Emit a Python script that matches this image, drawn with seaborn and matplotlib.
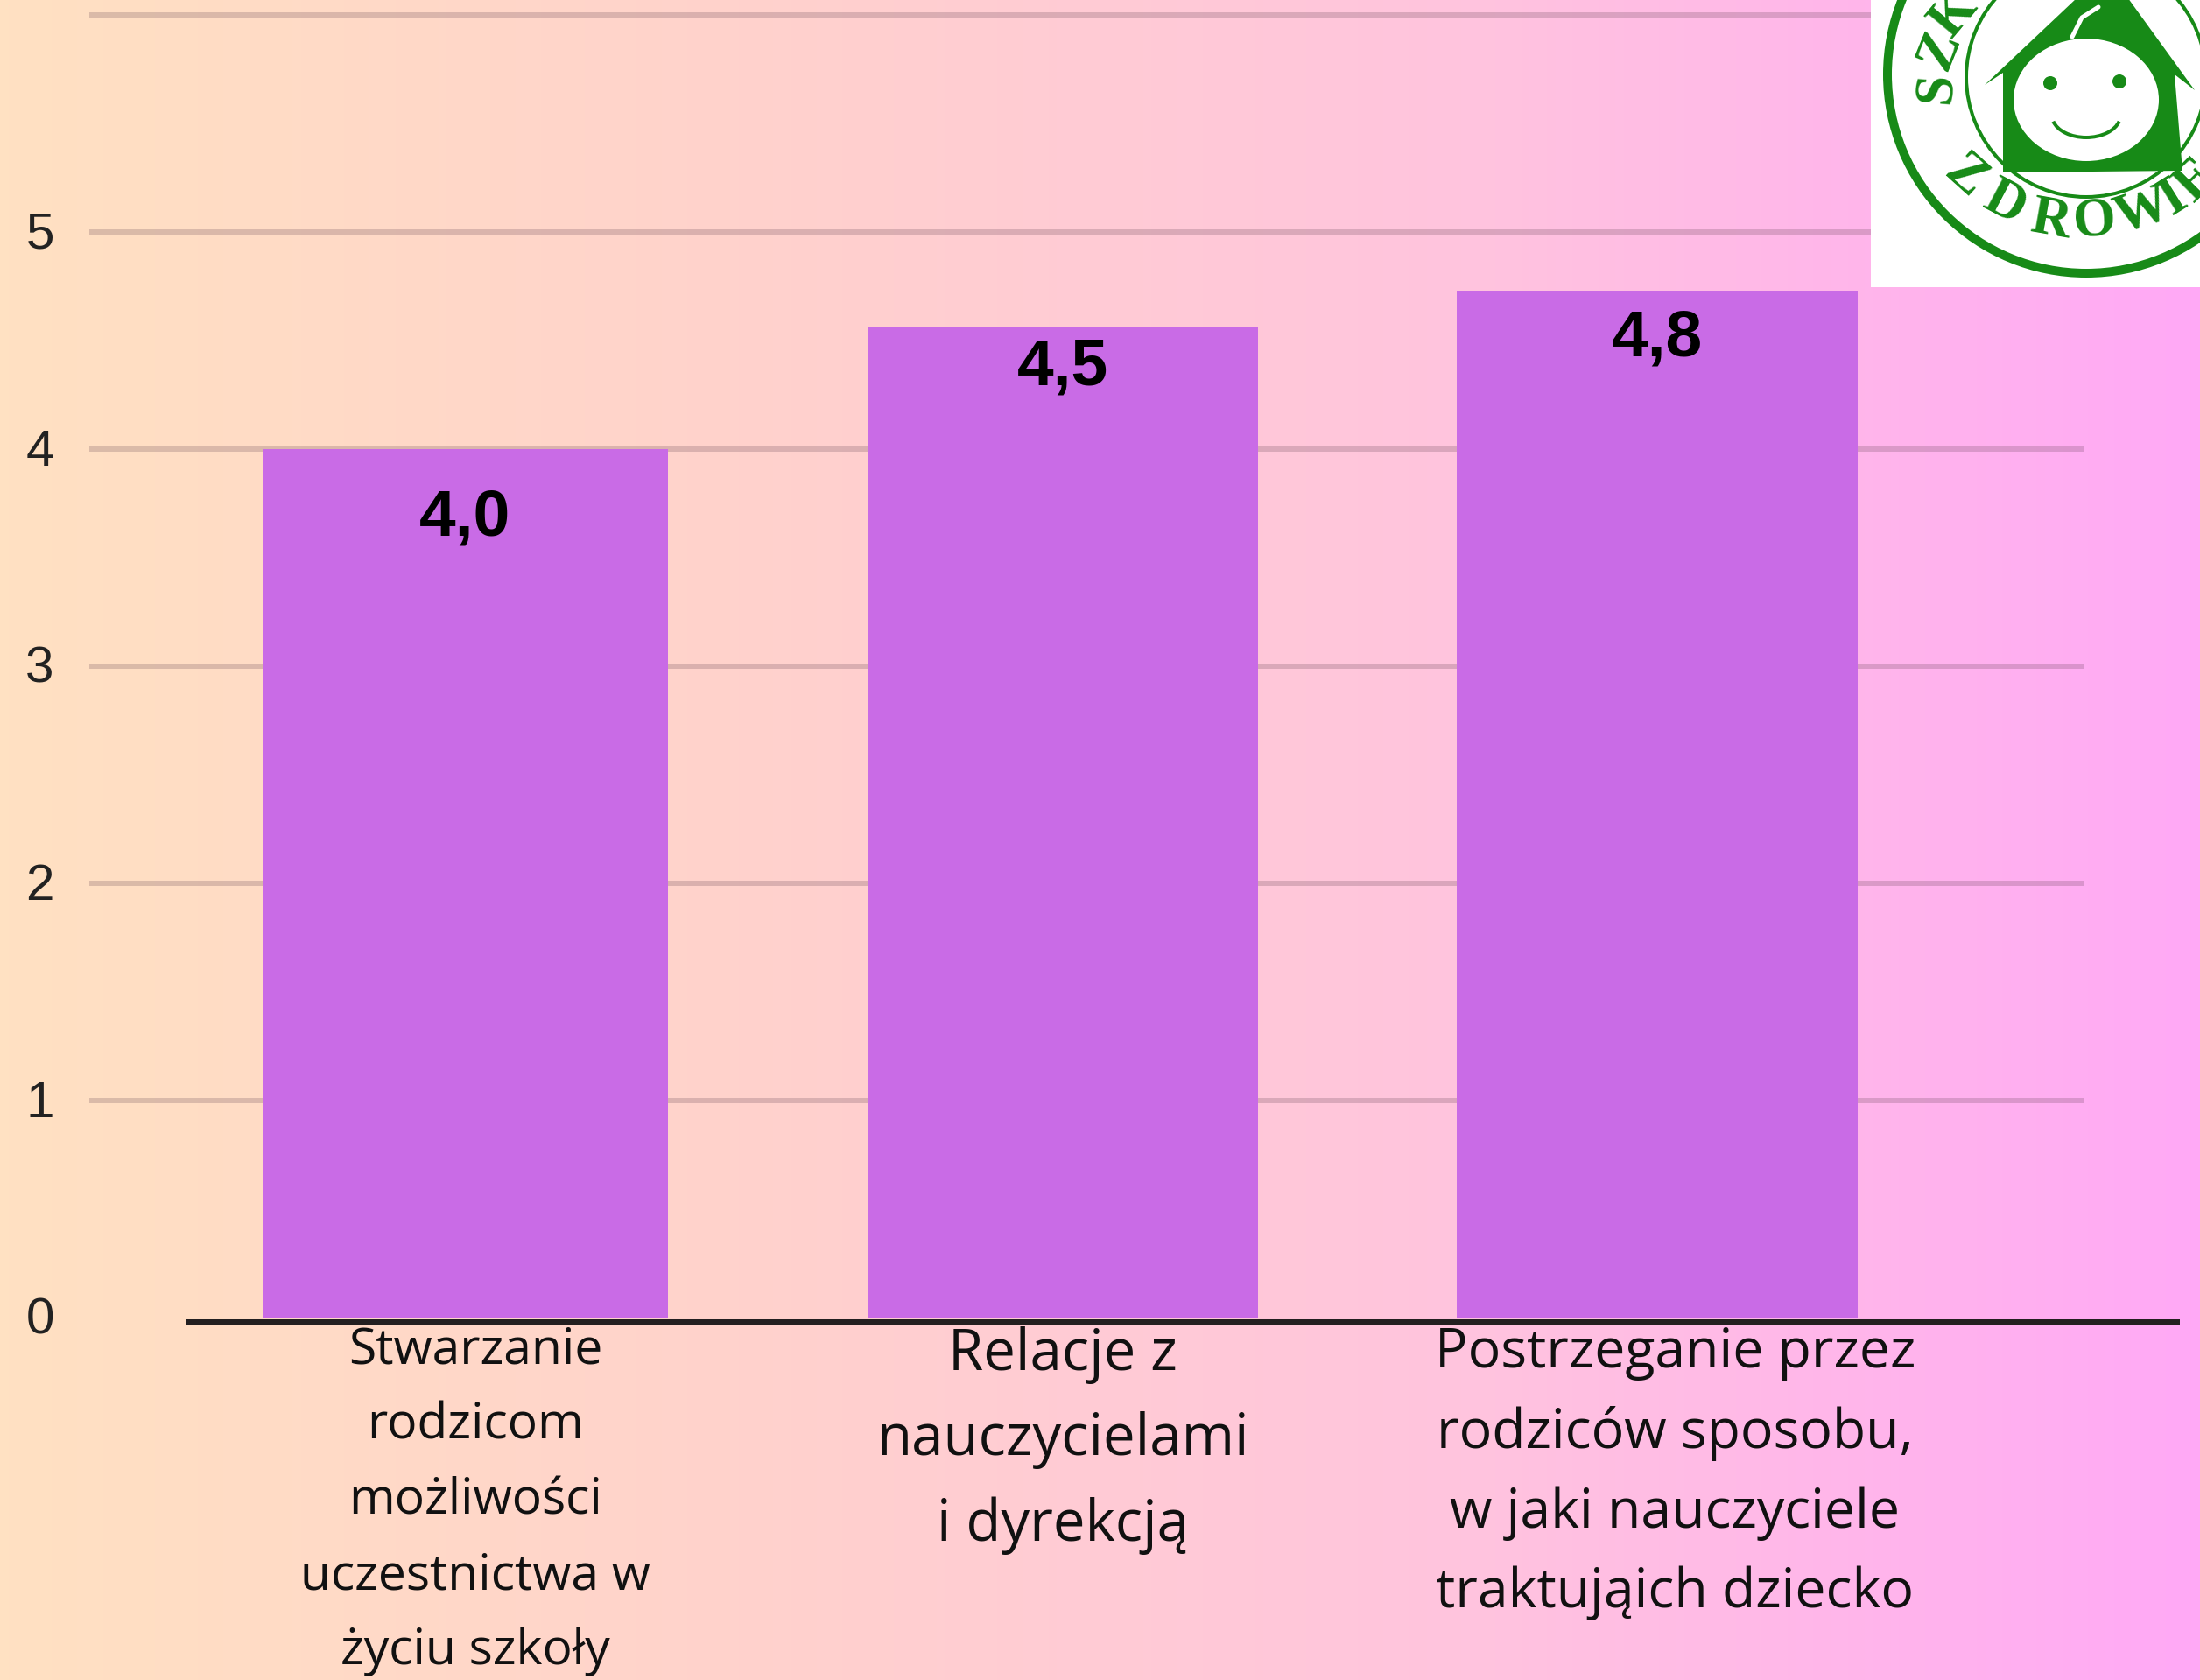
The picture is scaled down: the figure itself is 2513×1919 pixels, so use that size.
import numpy as np
import pandas as pd
import matplotlib
matplotlib.use("Agg")
import matplotlib.pyplot as plt
import seaborn as sns
from matplotlib.colors import LinearSegmentedColormap
from matplotlib.patches import Arc, Circle, Ellipse, Polygon, Rectangle, FancyBboxPatch
from matplotlib.transforms import ScaledTranslation

categories = [
    "Stwarzanie\nrodzicom\nmożliwości\nuczestnictwa w\nżyciu szkoły",
    "Relacje z\nnauczycielami\ni dyrekcją",
    "Postrzeganie przez\nrodziców sposobu,\nw jaki nauczyciele\ntraktująich dziecko",
]
values = [4.0, 4.56, 4.73]
value_labels = ["4,0", "4,5", "4,8"]
y_ticks = [0, 1, 2, 3, 4, 5, 6]
y_tick_labels = ["0", "1", "2", "3", "4", "5", ""]

W, H = 2513, 1919
DPI = 100
PX = 72 / DPI

bar_color = "#C96BE6"
grad = LinearSegmentedColormap.from_list("bg", ["#FFE1C2", "#FFD2CC", "#FFC4DE", "#FFA9F6"])
logo_green = "#178A17"

sns.set_theme(style="white")
plt.rcParams["font.family"] = ["Liberation Sans", "DejaVu Sans"]

fig = plt.figure(figsize=(W / DPI, H / DPI), dpi=DPI)

# background gradient
bg = fig.add_axes([0, 0, 1, 1], zorder=0)
bg.imshow(np.linspace(0, 1, 512).reshape(1, -1), aspect="auto", cmap=grad)
bg.axis("off")

# plot area in pixels: x 102-2380, y 17-1505
ax = fig.add_axes([102 / W, 1 - 1505 / H, (2380 - 102) / W, (1505 - 17) / H], zorder=1)
ax.patch.set_alpha(0)

df = pd.DataFrame({"kategoria": categories, "wartosc": values})
sns.barplot(data=df, x="kategoria", y="wartosc", color=bar_color, saturation=1, ax=ax)

band = 681
unit = (1505 - 17) / 6
ax.set_xlim((102 - 531) / band, (2380 - 531) / band)
ax.set_ylim(0, 6)

# bars have slightly different widths in the original, and run down to the baseline
bar_widths = [463 / band, 446 / band, 458 / band]
bar_centers = [0, 1.003, 2]
for bar, w, c, val in zip(ax.patches, bar_widths, bar_centers, values):
    bar.set_width(w)
    bar.set_x(c - w / 2)
    bar.set_y(-3 / unit)
    bar.set_height(val + 3 / unit)
    bar.set_linewidth(0)
    bar.set_zorder(3)

ax.set_xlabel("")
ax.set_ylabel("")
ax.set_yticks(y_ticks)
ax.set_yticklabels(y_tick_labels, fontsize=42, color="#222222")
ax.tick_params(axis="y", length=0, pad=29)
for lab in ax.get_yticklabels():
    lab.set_transform(lab.get_transform() + ScaledTranslation(0, 2 / DPI, fig.dpi_scale_trans))

ax.grid(axis="y", color="#5A3A4A", alpha=0.22, linewidth=6 * PX)
ax.set_axisbelow(True)
for i, line in enumerate(ax.get_ygridlines()):
    line.set_clip_on(False)
    line.set_solid_capstyle("butt")
    if i == 0:
        line.set_visible(False)
sns.despine(ax=ax, left=True, bottom=True, top=True, right=True)

# baseline sits just under zero and runs past the gridlines on the right
ax.plot([(213 - 102) / 2278, (2490 - 102) / 2278], [-5 / unit, -5 / unit], transform=ax.get_yaxis_transform(),
        color="#231F20", linewidth=6 * PX, clip_on=False, zorder=4, solid_capstyle="butt")

# category labels
label_pos = [0.018, 1.003, 2.03]
label_sizes = [41, 47, 45]
label_spacing = [1.67, 1.62, 1.60]
ax.set_xticks(label_pos)
ax.set_xticklabels(categories, color="#111111")
ax.tick_params(axis="x", length=0, pad=7)
for lab, size, sp in zip(ax.get_xticklabels(), label_sizes, label_spacing):
    lab.set_family("Open Sans")
    lab.set_fontsize(size)
    lab.set_linespacing(sp)
    lab.set_va("top")
    lab.set_ha("center")

# value labels inside bars
label_drop = [79, 46, 55]
for c, val, txt, drop in zip(bar_centers, values, value_labels, label_drop):
    ax.annotate(txt, xy=(c, val), xytext=(0, -drop * PX), textcoords="offset points",
                ha="center", va="center", fontsize=54, fontweight="bold", color="black", zorder=5)

# logo in the corner, cut by the edge of the picture
lg = fig.add_axes([0, 0, 1, 1], zorder=5)
lg.set_xlim(0, W)
lg.set_ylim(H, 0)
lg.axis("off")
lg.patch.set_alpha(0)
box = Rectangle((2137, 0), W - 2137, 328, facecolor="white", edgecolor="none")
lg.add_patch(box)
lg.add_patch(Circle((2383, 85), 227, fill=False, edgecolor=logo_green, linewidth=10 * PX))
lg.add_patch(Circle((2383, 88), 137, fill=False, edgecolor=logo_green, linewidth=4 * PX))
lg.add_patch(Polygon([(2267, 97), (2407, -35), (2507, 103), (2484, 85), (2493, 195),
                      (2288, 197), (2288, 83)], closed=True, facecolor=logo_green, edgecolor="none"))
lg.add_patch(Ellipse((2383, 114), 166, 140, facecolor="white", edgecolor="none"))
lg.add_patch(Ellipse((2342, 95), 16, 16, facecolor=logo_green, edgecolor="none"))
lg.add_patch(Ellipse((2421, 93), 16, 16, facecolor=logo_green, edgecolor="none"))
lg.add_patch(Arc((2383, 132), 78, 50, theta1=10, theta2=170, edgecolor=logo_green, linewidth=4 * PX))
lg.plot([2367, 2378, 2397], [42, 20, 8], color="white", linewidth=5 * PX)

logo_letters = ["S", "Z", "K", "Z", "D", "R", "O", "W", "I", "E"]
logo_x = [2213, 2217, 2233, 2245, 2290, 2343, 2393, 2447, 2483, 2510]
logo_y = [100, 57, 17, 203, 233, 253, 253, 243, 227, 207]
logo_rot = [85, 68, 50, -42, -28, -10, 5, 18, 32, 45]
for ch, x, y, rot in zip(logo_letters, logo_x, logo_y, logo_rot):
    lg.text(x, y, ch, rotation=rot, rotation_mode="anchor", ha="center", va="center",
            fontsize=45, fontweight="bold", color=logo_green, family="Liberation Serif", clip_on=True)

fig.savefig("out.png", dpi=DPI)
